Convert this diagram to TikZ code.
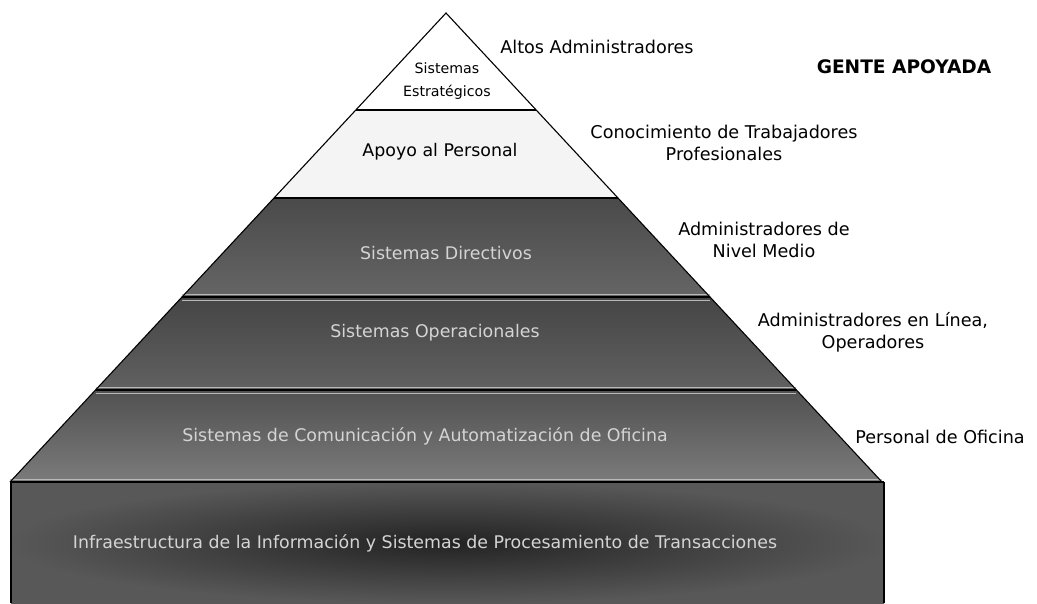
\documentclass[tikz,border=0pt]{standalone}
\usepackage{fontspec}
\setmainfont{DejaVu Sans}
\definecolor{layA}{HTML}{FFFFFF}
\definecolor{layB}{HTML}{F4F4F4}
\definecolor{layC}{HTML}{4A4A4A}
\definecolor{layD}{HTML}{454545}
\definecolor{layE}{HTML}{5A5A5A}
\definecolor{layF}{HTML}{3A3A3A}
\definecolor{darktxt}{HTML}{D4D4D4}
\begin{document}
\begin{tikzpicture}[x=1pt,y=-1pt,
  sep/.style={line width=1.6pt, black},
  glow/.style={line width=0.8pt, gray!55},
  outline/.style={line width=1.1pt, black, line join=miter},
  lighttext/.style={font=\fontsize{17.4}{20}\selectfont, text=black, align=center},
  darktext/.style={font=\fontsize{17.4}{20}\selectfont, text=darktxt, align=center},
  sidelabel/.style={font=\fontsize{17.6}{22}\selectfont, text=black, align=center}]
\useasboundingbox (0,0) rectangle (1037,603);
% levels
\coordinate (apex) at (446,13);
\coordinate (l1) at (356,110);  \coordinate (r1) at (536,110);
\coordinate (l2) at (274,198);  \coordinate (r2) at (618,198);
\coordinate (l3) at (182,297);  \coordinate (r3) at (710,297);
\coordinate (l4) at (96,390);   \coordinate (r4) at (796,390);
\coordinate (l5) at (10,482);   \coordinate (r5) at (882,482);
\coordinate (bl) at (11,603);   \coordinate (br) at (884,603);
\coordinate (tl) at (11,482);   \coordinate (tr) at (884,482);
% fills
\fill[layA] (apex) -- (r1) -- (l1) -- cycle;
\fill[layB] (l1) -- (r1) -- (r2) -- (l2) -- cycle;
\shade[top color=layC, bottom color=layC!85!white] (l2) -- (r2) -- (r3) -- (l3) -- cycle;
\shade[top color=layD, bottom color=layD!85!white] (l3) -- (r3) -- (r4) -- (l4) -- cycle;
\shade[top color=layE!90!black, bottom color=layE!80!white] (l4) -- (r4) -- (r5) -- (l5) -- cycle;
\shade[inner color=layF!60!black, outer color=layF!85!white] (tl) rectangle (br);
% highlight lines beside separators
\draw[glow] ([yshift=-3pt]l3) -- ([yshift=-3pt]r3);
\draw[glow] ([yshift=-3pt]l4) -- ([yshift=-3pt]r4);
\draw[glow] ([yshift=3pt]l3) -- ([yshift=3pt]r3);
\draw[glow] ([yshift=3pt]l4) -- ([yshift=3pt]r4);
\draw[glow] ([yshift=3pt]l5) -- ([yshift=3pt]r5);
% separators
\draw[sep] (l1) -- (r1);
\draw[sep] (l2) -- (r2);
\draw[sep] (l3) -- (r3);
\draw[sep] (l4) -- (r4);
\draw[sep] (tl) -- (tr);
% outline
\draw[outline] (l5) -- (apex) -- (r5);
\draw[outline] (bl) -- (tl);
\draw[outline] (br) -- (tr);
% layer texts
\node[lighttext, font=\fontsize{14.2}{23}\selectfont] (est) at (447,81) {Sistemas\\Estratégicos};
\node[lighttext] (apo) at (440,152) {Apoyo al Personal};
\node[darktext] (dir) at (446,253) {Sistemas Directivos};
\node[darktext] (ope) at (435,333) {Sistemas Operacionales};
\node[darktext] (com) at (425,436) {Sistemas de Comunicación y Automatización de Oficina};
\node[darktext] (inf) at (425,543) {Infraestructura de la Información y Sistemas de Procesamiento de Transacciones};
% side labels
\node[sidelabel] (alt) at (597,47) {Altos Administradores};
\node[sidelabel, font=\bfseries\fontsize{18.6}{22}\selectfont] (gen) at (904,67) {GENTE APOYADA};
\node[sidelabel] (con) at (724,143) {Conocimiento de Trabajadores\\Profesionales};
\node[sidelabel] (adm) at (764,240) {Administradores de\\Nivel Medio};
\node[sidelabel] (lin) at (873,332) {Administradores en Línea,\\Operadores};
\node[sidelabel] (per) at (940,437) {Personal de Oficina};
\end{tikzpicture}
\end{document}
